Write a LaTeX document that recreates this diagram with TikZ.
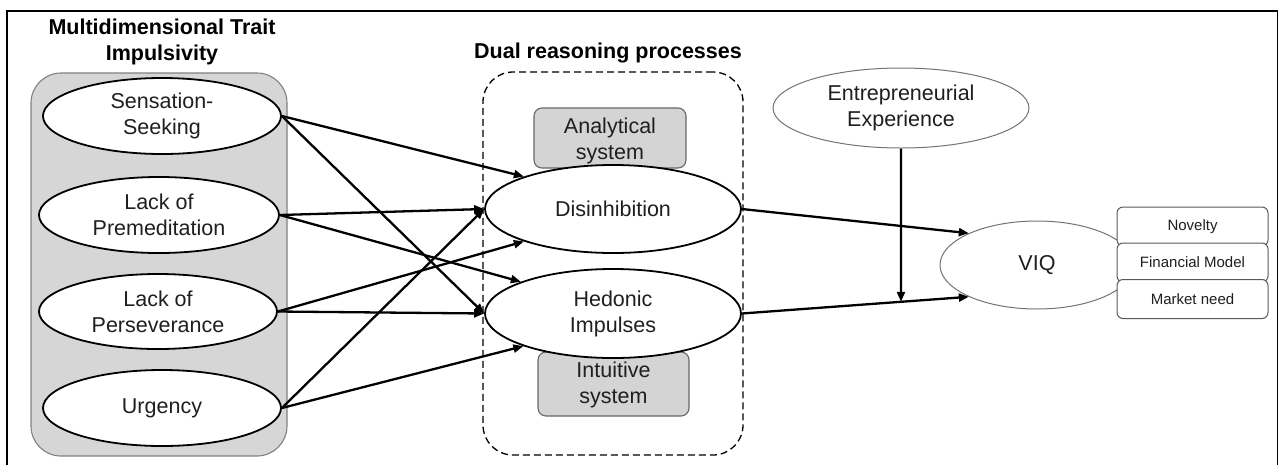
\documentclass[tikz,border=0pt]{standalone}
\usepackage{fontspec}
\setmainfont{Liberation Sans}
\usetikzlibrary{shapes.geometric,arrows.meta}
\begin{document}
\begin{tikzpicture}[x=1pt,y=-1pt,
  big/.style={font=\fontsize{21.5}{26}\selectfont, align=center, text=black!88},
  oval/.style={ellipse, draw=black, line width=1.8pt, fill=white, inner sep=0pt, big},
  thinoval/.style={ellipse, draw=black!55, line width=1pt, fill=white, inner sep=0pt, big},
  grp/.style={rectangle, rounded corners=30pt, draw=black!50, line width=1.1pt, fill=black!16},
  dualbox/.style={rectangle, rounded corners=30pt, draw=black, line width=1.3pt, dash pattern=on 7pt off 4pt},
  sysbox/.style={rectangle, rounded corners=8pt, draw=black!60, line width=1.1pt, fill=black!17},
  dimbox/.style={rectangle, rounded corners=6pt, draw=black!65, line width=1pt, fill=white,
    minimum width=151pt, minimum height=39pt, inner sep=0pt, font=\fontsize{15}{18}\selectfont, text=black!88},
  arr/.style={-{Triangle[length=10pt,width=8pt]}, line width=2.3pt},
  ttl/.style={font=\bfseries\fontsize{21.5}{26}\selectfont, align=center}
]
\path[use as bounding box, clip] (0,0) rectangle (1279,464);
% outer frame
\draw[line width=1.5pt] (7,11) rectangle (1277.5,475);

% group containers and their titles
\node[grp, minimum width=256pt, minimum height=383pt] (trait) at (159,264.5) {};
\node[ttl] (traitT) at (162,42) {Multidimensional Trait\\Impulsivity};
\node[dualbox, minimum width=260pt, minimum height=383pt] (dual) at (613,263.5) {};
\node[ttl] (dualT) at (608,53) {Dual reasoning processes};

% system boxes behind the process ellipses
\node[sysbox, minimum width=152pt, minimum height=60pt] (ana) at (610,138) {};
\node[big] (anaT) at (610,141) {Analytical\\system};
\node[sysbox, minimum width=151pt, minimum height=64pt] (int) at (613.5,384) {};
\node[big] (intT) at (613.5,385) {Intuitive\\system};

% trait dimensions
\node[oval, minimum width=238pt, minimum height=76pt] (ss) at (162,116) {Sensation-\\Seeking};
\node[oval, minimum width=240pt, minimum height=76pt] (lp) at (159,215) {Lack of\\Premeditation};
\node[oval, minimum width=238pt, minimum height=75pt] (lv) at (158,311.5) {Lack of\\Perseverance};
\node[oval, minimum width=238pt, minimum height=76pt] (ur) at (162,408) {Urgency};

% reasoning processes
\node[oval, minimum width=256pt, minimum height=88pt] (dis) at (613,209) {Disinhibition};
\node[oval, minimum width=256pt, minimum height=89pt] (hed) at (613,313.5) {Hedonic\\Impulses};

% moderator and outcome
\node[thinoval, minimum width=256pt, minimum height=80pt] (ee) at (901,108) {Entrepreneurial\\Experience};
\node[thinoval, minimum width=194pt, minimum height=88pt] (viq) at (1037,265) {VIQ};
\node[dimbox] (nov) at (1192.5,226.5) {Novelty};
\node[dimbox] (fin) at (1192.5,262.5) {Financial Model};
\node[dimbox] (mkt) at (1192.5,299) {Market need};

% paths
\draw[arr] (ss.east) -- (dis.160);
\draw[arr] (ss.east) -- (hed.west);
\draw[arr] (lp.east) -- (dis.west);
\draw[arr] (lp.east) -- (hed.161);
\draw[arr] (lv.east) -- (dis.200);
\draw[arr] (lv.east) -- (hed.west);
\draw[arr] (ur.east) -- (dis.west);
\draw[arr] (ur.east) -- (hed.200);
\draw[arr] (dis.east) -- (viq.155);
\draw[arr] (hed.east) -- (viq.205);
\coordinate (mod) at (intersection cs: first line={(hed.east)--(viq.205)},
  second line={(ee.south)--([yshift=-10pt]ee.south)});
\draw[arr] (ee.south) -- (mod);
\end{tikzpicture}
\end{document}
